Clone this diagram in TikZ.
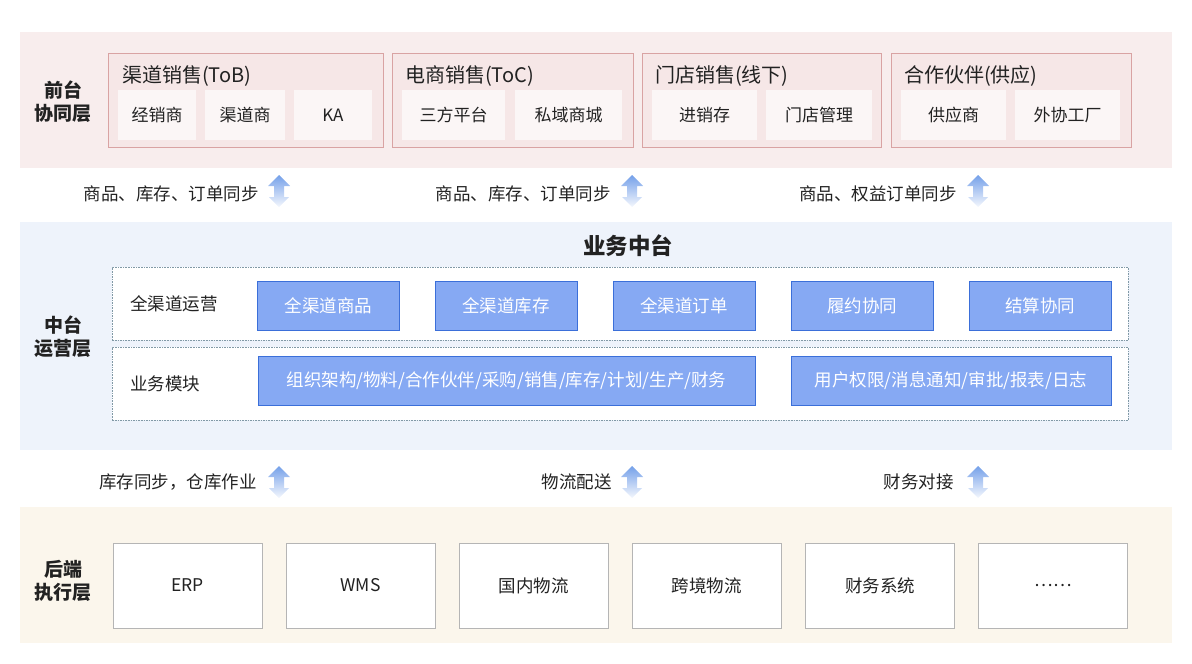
\documentclass[tikz,border=0pt]{standalone}
\usepackage{fontspec}
\setmainfont{Noto Sans CJK SC}
\usetikzlibrary{positioning}
\definecolor{txt}{HTML}{222222}
\definecolor{frontbg}{HTML}{F8EDED}
\definecolor{grpline}{HTML}{D9A3A3}
\definecolor{grpfill}{HTML}{F6E7E7}
\definecolor{subfill}{HTML}{FBF6F6}
\definecolor{midbg}{HTML}{EEF3FB}
\definecolor{dashline}{HTML}{8199A6}
\definecolor{bluefill}{HTML}{86A9F3}
\definecolor{blueline}{HTML}{3B6FD9}
\definecolor{backbg}{HTML}{FBF6EC}
\definecolor{sysline}{HTML}{B5B5B5}
\definecolor{arrowtop}{HTML}{74A0E9}
\definecolor{arrowbot}{HTML}{F4F7FD}
\tikzset{
  layerbg/.style={draw=none, anchor=north west, inner sep=0pt},
  layername/.style={font=\bfseries\fontsize{19}{23}\selectfont, align=center, text=txt},
  grouptitle/.style={anchor=west, inner sep=0pt, font=\fontsize{20}{22}\selectfont, text=txt},
  groupbox/.style={draw=grpline, fill=grpfill, line width=0.9pt, anchor=north west, minimum height=94},
  subbox/.style={fill=subfill, minimum height=50, text=txt, font=\fontsize{17}{19}\selectfont},
  dashbox/.style={draw=dashline, dash pattern=on 1.6pt off 1pt, line width=0.6pt, fill=white, anchor=north west, minimum width=1016, minimum height=73},
  rowlabel/.style={anchor=west, inner sep=0pt, font=\fontsize{17.5}{19}\selectfont, text=txt},
  bluebox/.style={draw=blueline, fill=bluefill, line width=0.9pt, text=white, minimum height=49, font=\fontsize{17.5}{19}\selectfont},
  sysbox/.style={draw=sysline, fill=white, line width=0.9pt, minimum width=149, minimum height=85, text=txt, font=\fontsize{17.5}{19}\selectfont},
  synclabel/.style={anchor=east, inner sep=0pt, font=\fontsize{17.5}{19}\selectfont, text=txt},
  syncarrow/.pic={
    \shade[top color=arrowtop, bottom color=arrowbot]
      (0,-16) -- (11,-5) -- (5,-5) -- (5,6) -- (10,6) -- (0,16)
      -- (-10,6) -- (-5,6) -- (-5,-5) -- (-11,-5) -- cycle;
  }
}
\begin{document}
\begin{tikzpicture}[x=1pt,y=-1pt]
\useasboundingbox (0,0) rectangle (1192,664);
% three layers
\node[layerbg, fill=frontbg, minimum width=1152, minimum height=136] (front) at (20,32) {};
\node[layerbg, fill=midbg, minimum width=1152, minimum height=228] (mid) at (20,222) {};
\node[layerbg, fill=backbg, minimum width=1152, minimum height=136] (back) at (20,507) {};
\node[layername] (frontname) at (63,102) {前台\\协同层};
\node[layername] (midname) at (63,337) {中台\\运营层};
\node[layername] (backname) at (63,581) {后端\\执行层};

% front groups
\node[groupbox, minimum width=275] (tob) at (108,53) {};
\node[groupbox, minimum width=241] (toc) at (392,53) {};
\node[groupbox, minimum width=239] (store) at (642,53) {};
\node[groupbox, minimum width=240] (partner) at (891,53) {};
\node[grouptitle] (tobt) at (122,76) {渠道销售(ToB)};
\node[grouptitle] (toct) at (405,76) {电商销售(ToC)};
\node[grouptitle] (storet) at (655,76) {门店销售(线下)};
\node[grouptitle] (partnert) at (904,76) {合作伙伴(供应)};
\node[subbox, minimum width=78] (dealer) at (157,115) {经销商};
\node[subbox, minimum width=80] (channel) at (245,115) {渠道商};
\node[subbox, minimum width=78] (ka) at (333,115) {KA};
\node[subbox, minimum width=103] (third) at (453.5,115) {三方平台};
\node[subbox, minimum width=107] (private) at (568.5,115) {私域商城};
\node[subbox, minimum width=105] (psi) at (704.5,115) {进销存};
\node[subbox, minimum width=106] (shop) at (819,115) {门店管理};
\node[subbox, minimum width=105] (supplier) at (953.5,115) {供应商};
\node[subbox, minimum width=105] (factory) at (1067.5,115) {外协工厂};

% sync between front and middle
\pic at (279,191) {syncarrow};
\pic at (632,191) {syncarrow};
\pic at (978,191) {syncarrow};
\node[synclabel] (syncA) at (259,194) {商品、库存、订单同步};
\node[synclabel] (syncB) at (611,194) {商品、库存、订单同步};
\node[synclabel] (syncC) at (957,194) {商品、权益订单同步};

% middle platform
\node[font=\bfseries\fontsize{22.5}{25}\selectfont, text=txt] (midtitle) at (628,246) {业务中台};
\node[dashbox] (omni) at (112,267) {};
\node[dashbox] (modules) at (112,347) {};
\node[rowlabel] (omnit) at (130,304) {全渠道运营};
\node[rowlabel] (modulest) at (130,384) {业务模块};
\node[bluebox, minimum width=142] (goods) at (328.5,305.5) {全渠道商品};
\node[bluebox, minimum width=142] (stock) at (506,305.5) {全渠道库存};
\node[bluebox, minimum width=142] (order) at (684,305.5) {全渠道订单};
\node[bluebox, minimum width=142] (fulfil) at (862,305.5) {履约协同};
\node[bluebox, minimum width=142] (settle) at (1040,305.5) {结算协同};
\node[bluebox, minimum width=497] (bizmod) at (506.5,380.5) {组织架构/物料/合作伙伴/采购/销售/库存/计划/生产/财务};
\node[bluebox, minimum width=320] (sysmod) at (951,380.5) {用户权限/消息通知/审批/报表/日志};

% sync between middle and back
\pic at (279,482) {syncarrow};
\pic at (632,482) {syncarrow};
\pic at (978,482) {syncarrow};
\node[synclabel] (syncD) at (257,482) {库存同步，仓库作业};
\node[synclabel] (syncE) at (612,482) {物流配送};
\node[synclabel] (syncF) at (954,482) {财务对接};

% back systems
\node[sysbox] (erp) at (187.5,585.5) {ERP};
\node[sysbox] (wms) at (360.5,585.5) {WMS};
\node[sysbox] (domestic) at (533.5,585.5) {国内物流};
\node[sysbox] (cross) at (706.5,585.5) {跨境物流};
\node[sysbox] (finance) at (880,585.5) {财务系统};
\node[sysbox] (more) at (1053,585.5) {……};
\end{tikzpicture}
\end{document}
